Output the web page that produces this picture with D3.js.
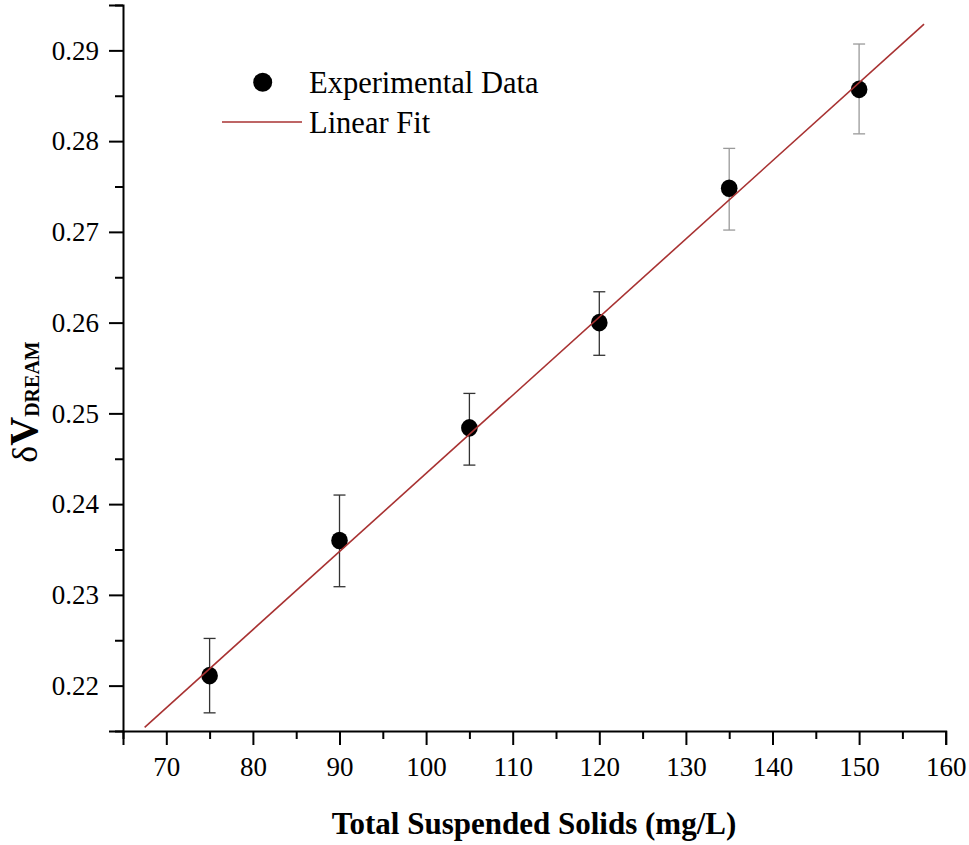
<!DOCTYPE html>
<html>
<head>
<meta charset="utf-8">
<script src="https://cdn.jsdelivr.net/npm/d3@7"></script>
<style>
  html, body { margin: 0; padding: 0; background: #fff; }
  svg { display: block; }
</style>
</head>
<body>
<svg id="chart" width="969" height="845"></svg>
<script>
// ---- data ----
const tss = [75, 90, 105, 120, 135, 150];
const dV = [0.2211, 0.2360, 0.2484, 0.2600, 0.2748, 0.2857];
const errUpper = [0.2252, 0.2410, 0.2522, 0.2634, 0.2792, 0.2907];
const errLower = [0.2170, 0.2309, 0.2443, 0.2564, 0.2702, 0.2808];
const fitX = [67.5, 157.5];
const fitY = [0.2154, 0.2929];
const xMajorTicks = [70, 80, 90, 100, 110, 120, 130, 140, 150, 160];
const xMinorTicks = [65, 75, 85, 95, 105, 115, 125, 135, 145, 155];
const yMajorTicks = [0.22, 0.23, 0.24, 0.25, 0.26, 0.27, 0.28, 0.29];
const yMinorTicks = [0.215, 0.225, 0.235, 0.245, 0.255, 0.265, 0.275, 0.285, 0.295];
const legendLabels = ["Experimental Data", "Linear Fit"];
const xTitle = "Total Suspended Solids (mg/L)";

// ---- layout ----
const FONT = "Liberation Serif";
const svg = d3.select("#chart");
const mLeft = 123, mRight = 945.7, mTop = 5, mBottom = 731;
const x = d3.scaleLinear().domain([65, 160]).range([mLeft, mRight]);
const y = d3.scaleLinear().domain([0.215, 0.295]).range([mBottom, mTop]);

const fitColor = "#a83232";

// axes
const xAxis = svg.append("g").attr("transform", `translate(0,${mBottom})`)
  .call(d3.axisBottom(x).tickValues(xMajorTicks).tickSize(14).tickPadding(12).tickFormat(d3.format("d")));
const xMinor = svg.append("g").attr("transform", `translate(0,${mBottom})`)
  .call(d3.axisBottom(x).tickValues(xMinorTicks).tickSize(8).tickFormat(""));
const yAxis = svg.append("g").attr("transform", `translate(${mLeft},0)`)
  .call(d3.axisLeft(y).tickValues(yMajorTicks).tickSize(14).tickPadding(10).tickFormat(d3.format(".2f")));
const yMinor = svg.append("g").attr("transform", `translate(${mLeft},0)`)
  .call(d3.axisLeft(y).tickValues(yMinorTicks).tickSize(8).tickFormat(""));

[xAxis, xMinor, yAxis, yMinor].forEach(g => {
  g.attr("font-family", FONT);
  g.selectAll(".domain").attr("stroke", "#000").attr("stroke-width", 2);
  g.selectAll(".tick line").attr("stroke", "#000").attr("stroke-width", 2);
  g.selectAll(".tick text").attr("fill", "#000")
    .style("font-family", FONT)
    .style("font-size", "27px");
});
xMinor.select(".domain").remove();
yMinor.select(".domain").remove();

const fitData = fitX.map((d, i) => [d, fitY[i]]);
const fitLine = d3.line().x(d => x(d[0])).y(d => y(d[1]));

// error bars
const eb = svg.append("g");
tss.forEach((t, i) => {
  const col = i >= 4 ? "#9a9a9a" : "#333";
  const g = eb.append("g").attr("stroke", col).attr("stroke-width", 1.3);
  g.append("line").attr("x1", x(t)).attr("x2", x(t)).attr("y1", y(errUpper[i])).attr("y2", y(errLower[i]));
  g.append("line").attr("x1", x(t) - 6).attr("x2", x(t) + 6).attr("y1", y(errUpper[i])).attr("y2", y(errUpper[i]));
  g.append("line").attr("x1", x(t) - 6).attr("x2", x(t) + 6).attr("y1", y(errLower[i])).attr("y2", y(errLower[i]));
});

// points
svg.append("g").selectAll("ellipse")
  .data(tss.map((t, i) => [t, dV[i]]))
  .join("ellipse")
  .attr("cx", d => x(d[0]))
  .attr("cy", d => y(d[1]))
  .attr("rx", 8.3)
  .attr("ry", 8.8)
  .attr("fill", "#000");

// fit line (drawn over the markers, as in the reference)
svg.append("path")
  .datum(fitData)
  .attr("d", fitLine)
  .attr("stroke", fitColor)
  .attr("stroke-width", 1.6)
  .attr("fill", "none");

// legend
const lg = svg.append("g");
lg.append("circle").attr("cx", 262.7).attr("cy", 82.3).attr("r", 9.5).attr("fill", "#000");
lg.append("text").attr("x", 309).attr("y", 93).style("font-family", FONT).style("font-size", "30.5px").attr("fill", "#000").text(legendLabels[0]);
lg.append("line").attr("x1", 222).attr("x2", 302).attr("y1", 122).attr("y2", 122)
  .attr("stroke", fitColor).attr("stroke-width", 1.6);
lg.append("text").attr("x", 309).attr("y", 133).style("font-family", FONT).style("font-size", "30.5px").attr("fill", "#000").text(legendLabels[1]);

// x title
svg.append("text")
  .attr("x", 534).attr("y", 834)
  .attr("text-anchor", "middle")
  .style("font-family", FONT).style("font-size", "31px").style("font-weight", "bold").attr("fill", "#000")
  .text(xTitle);

// y title
const yt = svg.append("text")
  .attr("transform", "translate(37,402) rotate(-90)")
  .attr("text-anchor", "middle")
  .style("font-family", FONT)
  .attr("fill", "#000");
yt.append("tspan").style("font-size", "36px").text("δ");
yt.append("tspan").style("font-size", "40px").style("font-weight", "bold").text("V");
yt.append("tspan").style("font-size", "20px").style("font-weight", "bold").attr("dy", 2).text("DREAM");
</script>
</body>
</html>
